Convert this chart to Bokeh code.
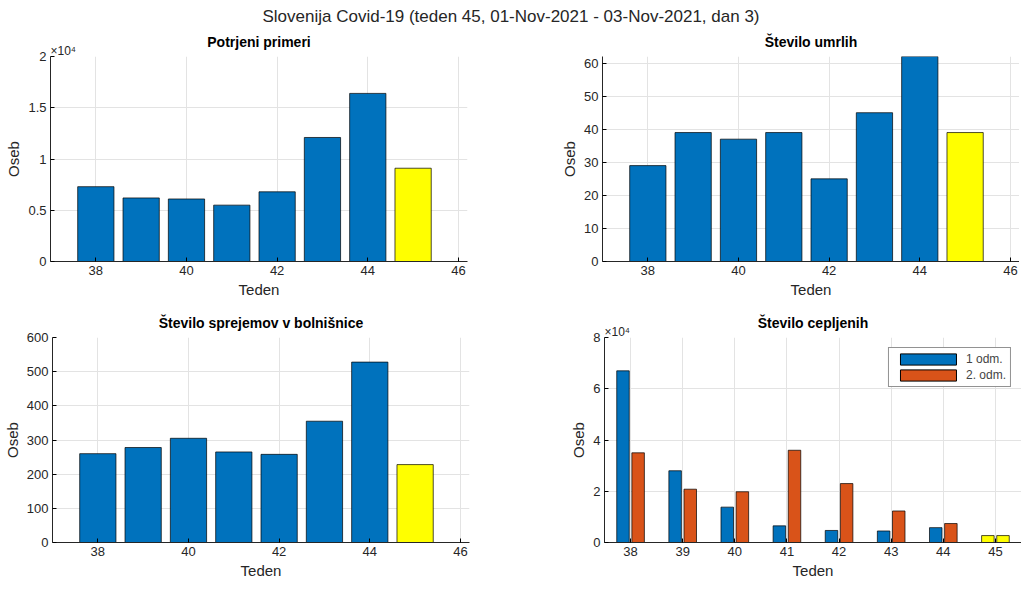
from bokeh.plotting import figure
from bokeh.layouts import column, row
from bokeh.models import Div, Title, CustomJSTickFormatter, FixedTicker, Range1d, Legend, LegendItem
from bokeh.embed import file_html
from bokeh.resources import INLINE

weeks = [38, 39, 40, 41, 42, 43, 44, 45]
cases = [7300, 6200, 6100, 5500, 6800, 12100, 16400, 9100]
deaths = [29, 39, 37, 39, 25, 45, 62, 39]
hosp = [260, 278, 305, 265, 258, 355, 528, 228]
dose1 = [67000, 28000, 13800, 6500, 4700, 4500, 5800, 2700]
dose2 = [35000, 20800, 19800, 36000, 23000, 12300, 7400, 2700]

BLUE, ORANGE, YEL = "#0072BD", "#D95319", "#FFFF00"
FONT = "Liberation Sans"

def mk(title, yr, yticks, left, right, xr, xticks, top, bottom, sci=False):
    p = figure(frame_width=417, frame_height=205, output_backend="svg", toolbar_location=None,
               x_range=Range1d(*xr), y_range=Range1d(*yr),
               min_border_left=left, min_border_right=right, min_border_top=top, min_border_bottom=bottom)
    p.add_layout(Title(text="×10⁴" if sci else " ", align="left", text_font=FONT, text_font_size="12px",
                       text_font_style="normal", text_color="#262626", offset=0,
                       standoff=-2), "above")
    p.title.text = title
    p.title.align = "center"
    p.title.text_font = FONT
    p.title.text_font_size = "14px"
    p.title.text_font_style = "bold"
    p.title.text_color = "black"
    p.title.standoff = -14
    p.outline_line_color = None
    for ax in (p.xaxis, p.yaxis):
        ax.major_label_text_font = FONT
        ax.major_label_text_font_size = "13px"
        ax.axis_label_text_font = FONT
        ax.axis_label_text_font_size = "15px"
        ax.axis_label_text_font_style = "normal"
        ax.minor_tick_line_color = None
        ax.major_tick_in = 4
        ax.major_tick_out = 0
        ax.major_label_standoff = 4
        ax.axis_label_standoff = 3
        ax.axis_line_color = "#262626"
        ax.major_label_text_color = "#262626"
        ax.axis_label_text_color = "#262626"
    p.xaxis.axis_label = "Teden"
    p.yaxis.axis_label = "Oseb"
    p.xaxis.ticker = FixedTicker(ticks=xticks)
    p.yaxis.ticker = FixedTicker(ticks=yticks)
    p.grid.grid_line_color = "#e3e3e3"
    if sci:
        p.yaxis.formatter = CustomJSTickFormatter(code="return (tick/1e4).toString();")
    return p

def bars(p, vals):
    colors = [BLUE] * 7 + [YEL]
    p.vbar(x=weeks, top=vals, width=0.8, fill_color=colors, line_color="black", line_width=0.7)

p1 = mk("Potrjeni primeri", (0, 20000), [0, 5000, 10000, 15000, 20000], 50, 85, (37, 46.2),
        [38, 40, 42, 44, 46], 24, 44, sci=True)
bars(p1, cases)
p2 = mk("Število umrlih", (0, 62), [0, 10, 20, 30, 40, 50, 60], 50, 0, (37, 46.2),
        [38, 40, 42, 44, 46], 24, 44)
bars(p2, deaths)
p3 = mk("Število sprejemov v bolnišnice", (0, 600), [0, 100, 200, 300, 400, 500, 600], 50, 85, (37, 46.2),
        [38, 40, 42, 44, 46], 32, 40)
bars(p3, hosp)
p4 = mk("Število cepljenih", (0, 80000), [0, 20000, 40000, 60000, 80000], 50, 0, (37.5, 45.5),
        weeks, 32, 40, sci=True)
x1 = [w - 0.145 for w in weeks]
x2 = [w + 0.145 for w in weeks]
p4.vbar(x=x1, top=dose1, width=0.24, fill_color=[BLUE] * 7 + [YEL], line_color="black", line_width=0.7)
p4.vbar(x=x2, top=dose2, width=0.24, fill_color=[ORANGE] * 7 + [YEL], line_color="black", line_width=0.7)
l1 = p4.vbar(x=[0], top=[0], width=0.1, fill_color=BLUE, line_color="black")
l2 = p4.vbar(x=[0], top=[0], width=0.1, fill_color=ORANGE, line_color="black")
leg = Legend(items=[LegendItem(label="1 odm.", renderers=[l1]), LegendItem(label="2. odm.", renderers=[l2])],
             location="top_right", label_text_font=FONT, label_text_font_size="12px",
             border_line_color="#262626", glyph_width=70, glyph_height=14, spacing=2, padding=4,
             margin=10, label_standoff=3)
p4.add_layout(leg)

title = Div(text="Slovenija Covid-19 (teden 45, 01-Nov-2021 - 03-Nov-2021, dan 3)", width=1012, height=22,
            styles={"font-family": FONT, "font-size": "17px", "text-align": "center", "width": "1012px",
                    "color": "#262626"})
layout = column(title, row(p1, p2), row(p3, p4), spacing=0)
open("out.html", "w").write(file_html(layout, INLINE))
